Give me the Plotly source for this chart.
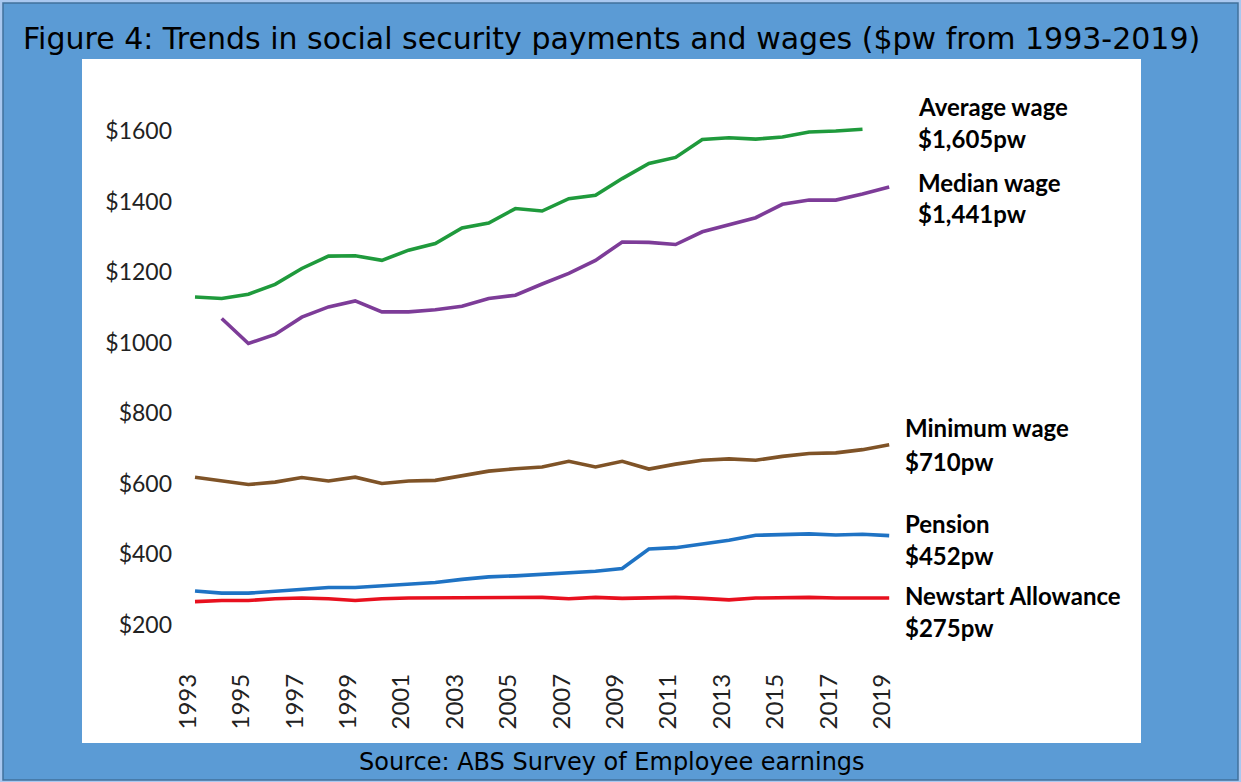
import plotly.graph_objects as go

# ---- data ($ per week) ----
years = list(range(1993, 2020))

average_wage = [1129, 1125, 1137, 1165, 1210, 1245, 1246, 1233, 1262, 1281, 1325, 1339, 1380,
                1373, 1408, 1418, 1465, 1508, 1525, 1576, 1581, 1577, 1583, 1597, 1600, 1605]
average_years = years[:-1]          # 1993-2018

median_wage = [1068, 997, 1023, 1072, 1101, 1118, 1087, 1087, 1093, 1103, 1125, 1134, 1166,
               1196, 1233, 1285, 1284, 1278, 1314, 1335, 1354, 1392, 1404, 1404, 1421, 1441]
median_years = years[1:]            # 1994-2019

minimum_wage = [618, 607, 597, 604, 617, 607, 618, 600, 607, 609, 623, 635, 642, 647, 663, 647,
                663, 641, 655, 666, 670, 666, 677, 685, 687, 696, 710]

pension = [295, 289, 289, 294, 299, 305, 305, 309, 314, 319, 328, 335, 338, 343, 346, 351, 359,
           414, 418, 428, 439, 453, 456, 457, 454, 456, 452]

newstart = [265, 268, 268, 273, 275, 273, 268, 273, 275, 275, 275, 277, 275, 277, 273, 277, 274,
            275, 277, 274, 270, 275, 277, 277, 275, 275, 275]

y_ticks = [200, 400, 600, 800, 1000, 1200, 1400, 1600]
x_ticks = list(range(1993, 2020, 2))

series = [
    ("Average wage", average_years, average_wage, "#1f9a3c", "$1,605pw", 916, 107, 138),
    ("Median wage", median_years, median_wage, "#7d3c98", "$1,441pw", 916, 182, 214),
    ("Minimum wage", years, minimum_wage, "#7f5327", "$710pw", 903, 427, 461),
    ("Pension", years, pension, "#1f73c4", "$452pw", 903, 523, 555),
    ("Newstart Allowance", years, newstart, "#e8101e", "$275pw", 903, 595, 627),
]

# ---- page geometry (pixels) ----
FIG_W, FIG_H = 1241, 782
L, R, T, B = 178, FIG_W - 920, 80, 120
PLOT_W = FIG_W - L - R
PLOT_H = FIG_H - T - B
PX_PER_YEAR = 26.7
X0_PX = 195                      # where 1993 sits
Y200_PX = 624.5                  # where $200 sits
PX_PER_DOLLAR = 70.5 / 200

x_range = [1993 - (X0_PX - L) / PX_PER_YEAR, 1993 + (L + PLOT_W - X0_PX) / PX_PER_YEAR]
y_range = [200 - (T + PLOT_H - Y200_PX) / PX_PER_DOLLAR, 200 + (Y200_PX - T) / PX_PER_DOLLAR]


def paper_x(px):
    return (px - L) / PLOT_W


def paper_y(py):
    return (T + PLOT_H - py) / PLOT_H


BLUE = "#5b9bd5"

fig = go.Figure()
for name, xs, ys, color, *_ in series:
    fig.add_trace(go.Scatter(x=xs, y=ys, mode="lines", name=name,
                             line=dict(color=color, width=3.6), hoverinfo="x+y"))

shapes = [
    # outer frame
    dict(type="rect", xref="paper", yref="paper", x0=paper_x(0), x1=paper_x(FIG_W),
         y0=paper_y(FIG_H), y1=paper_y(0), fillcolor="#a9c8f0", line=dict(width=0), layer="below"),
    dict(type="rect", xref="paper", yref="paper", x0=paper_x(3), x1=paper_x(1238),
         y0=paper_y(780), y1=paper_y(3), fillcolor=BLUE, line=dict(color="#41719c", width=1.5),
         layer="below"),
    # white chart panel
    dict(type="rect", xref="paper", yref="paper", x0=paper_x(82), x1=paper_x(1141),
         y0=paper_y(743), y1=paper_y(59), fillcolor="white", line=dict(width=0), layer="below"),
]

annotations = [
    dict(text="Figure 4: Trends in social security payments and wages ($pw from 1993-2019)",
         xref="paper", yref="paper", x=paper_x(611), y=paper_y(38), xanchor="center",
         yanchor="middle", showarrow=False,
         font=dict(family="DejaVu Sans", size=30, color="black")),
    dict(text="Source: ABS Survey of Employee earnings",
         xref="paper", yref="paper", x=paper_x(612), y=paper_y(762), xanchor="center",
         yanchor="middle", showarrow=False,
         font=dict(family="DejaVu Sans", size=24, color="black")),
]
for name, xs, ys, color, value_text, lx, ly1, ly2 in series:
    for txt, ly in ((name, ly1), (value_text, ly2)):
        annotations.append(dict(text="<b>%s</b>" % txt, xref="paper", yref="paper",
                                x=paper_x(lx), y=paper_y(ly), xanchor="left", yanchor="middle",
                                showarrow=False,
                                font=dict(family="Lato", size=24, color="black")))

fig.update_layout(
    width=FIG_W, height=FIG_H,
    margin=dict(l=L, r=R, t=T, b=B),
    paper_bgcolor=BLUE,
    plot_bgcolor="rgba(0,0,0,0)",
    showlegend=False,
    shapes=shapes,
    annotations=annotations,
    xaxis=dict(range=x_range, tickmode="array", tickvals=x_ticks,
               ticktext=[str(y) for y in x_ticks], tickangle=-90,
               showgrid=False, zeroline=False, showline=False, ticks="",
               ticklabelshift=-7, ticklabelstandoff=6,
               tickfont=dict(family="Lato", size=24, color="#222222")),
    yaxis=dict(range=y_range, tickmode="array", tickvals=y_ticks,
               ticktext=["$%d" % v for v in y_ticks],
               showgrid=False, zeroline=False, showline=False, ticks="",
               ticklabelstandoff=5,
               tickfont=dict(family="Lato", size=23, color="#222222")),
)

fig.write_html("out.html")
